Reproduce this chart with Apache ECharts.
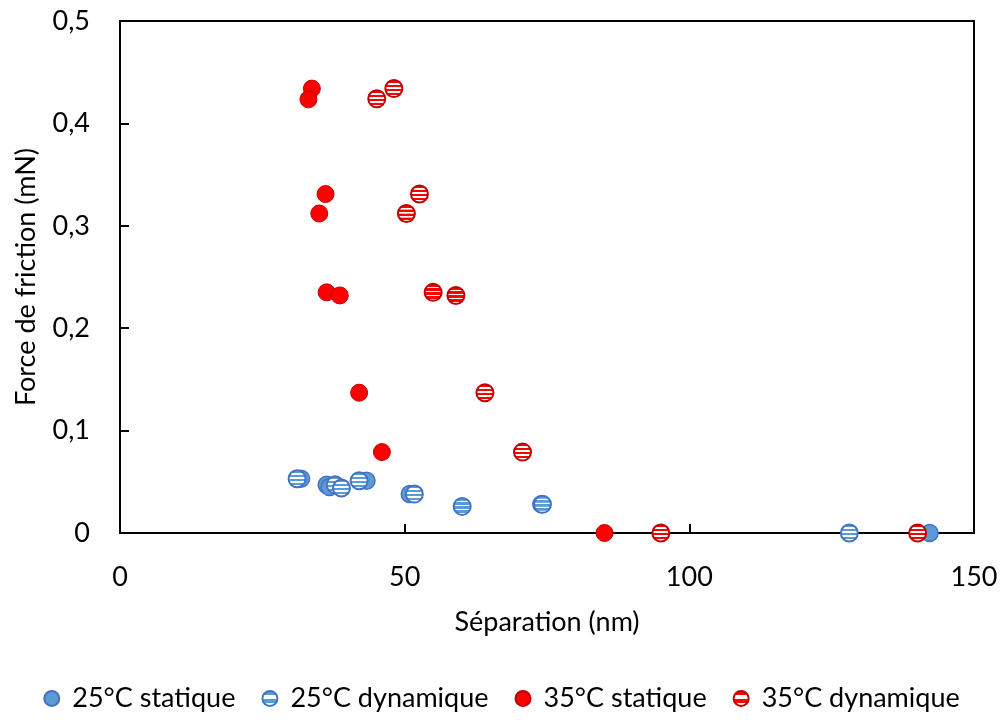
<!DOCTYPE html>
<html>
<head>
<meta charset="utf-8">
<script src="https://cdn.jsdelivr.net/npm/echarts@6/dist/echarts.min.js"></script>
<style>html,body{margin:0;padding:0;background:#fff}#c{width:1003px;height:720px}</style>
</head>
<body>
<div id="c"></div>
<script>
const seriesNames = ['25°C statique', '25°C dynamique', '35°C statique', '35°C dynamique'];
const blueStatic = [[31.8,0.053],[36.3,0.047],[36.8,0.045],[43.3,0.051],[50.9,0.038],[74.0,0.028],[142.2,0]];
const blueDynamic = [[31.1,0.053],[37.8,0.047],[38.9,0.044],[42.0,0.051],[51.7,0.038],[60.1,0.026],[74.2,0.028],[128.1,0]];
const redStatic = [[33.7,0.434],[33.1,0.4235],[36.1,0.331],[35.0,0.312],[36.3,0.235],[38.6,0.232],[42.0,0.137],[46.0,0.079],[85.1,0]];
const redDynamic = [[45.1,0.424],[48.1,0.434],[52.6,0.331],[50.3,0.312],[55.0,0.235],[59.0,0.232],[64.1,0.137],[70.7,0.079],[95.0,0],[140.1,0]];

const sym = 17;
function stripes(color) {
  const c = document.createElement('canvas');
  c.width = 40; c.height = 40;
  const g = c.getContext('2d');
  g.fillStyle = '#fff'; g.fillRect(0,0,40,40);
  g.fillStyle = color; g.fillRect(0,0,40,22);
  const s = 4 / 40 / (sym / 2);
  return {image: c, repeat: 'repeat', scaleX: s, scaleY: s};
}

const font = 'Lato';
const fs = 27;
const chart = echarts.init(document.getElementById('c'));
chart.setOption({
  animation: false,
  textStyle: {fontFamily: font},
  grid: {left: 120, top: 21, right: 29, bottom: 187, containLabel: false, outerBoundsMode: 'none',
         show: true, borderColor: '#000', borderWidth: 2, backgroundColor: 'transparent'},
  xAxis: {
    type: 'value', min: 0, max: 150, interval: 50,
    name: 'Séparation (nm)', nameLocation: 'middle', nameGap: 76,
    nameTextStyle: {fontSize: fs, color: '#000', fontFamily: font},
    axisLine: {show: true, onZero: false, lineStyle: {color: '#000', width: 2}},
    axisTick: {show: true, inside: true, length: 9, lineStyle: {color: '#000', width: 2}},
    axisLabel: {fontSize: fs, color: '#000', margin: 31, fontFamily: font},
    splitLine: {show: false}
  },
  yAxis: {
    type: 'value', min: 0, max: 0.5, interval: 0.1,
    name: 'Force de friction (mN)', nameLocation: 'middle', nameGap: 80,
    nameTextStyle: {fontSize: fs, color: '#000', fontFamily: font},
    axisLine: {show: true, lineStyle: {color: '#000', width: 2}},
    axisTick: {show: true, inside: true, length: 9, lineStyle: {color: '#000', width: 2}},
    axisLabel: {fontSize: fs, color: '#000', margin: 30, fontFamily: font,
      formatter: v => v === 0 ? '0' : v.toFixed(1).replace('.', ',')},
    splitLine: {show: false}
  },
  legend: {
    bottom: 3, left: 'center', itemWidth: 15, itemHeight: 15, itemGap: 26,
    icon: 'circle',
    textStyle: {fontSize: fs, color: '#000', fontFamily: font, padding: [0,0,0,8]},
    data: seriesNames
  },
  series: [
    {name: seriesNames[0], type: 'scatter', data: blueStatic, symbolSize: sym,
     itemStyle: {color: '#5B9BD5', borderColor: '#4472C4', borderWidth: 1.5, opacity: 1}},
    {name: seriesNames[1], type: 'scatter', data: blueDynamic, symbolSize: sym,
     itemStyle: {color: stripes('#5B9BD5'), borderColor: '#4472C4', borderWidth: 2, opacity: 1}},
    {name: seriesNames[2], type: 'scatter', data: redStatic, symbolSize: sym,
     itemStyle: {color: '#FF0000', borderColor: '#C00000', borderWidth: 1, opacity: 1}},
    {name: seriesNames[3], type: 'scatter', data: redDynamic, symbolSize: sym,
     itemStyle: {color: stripes('#FF0000'), borderColor: '#C00000', borderWidth: 2, opacity: 1}}
  ]
});
</script>
</body>
</html>
